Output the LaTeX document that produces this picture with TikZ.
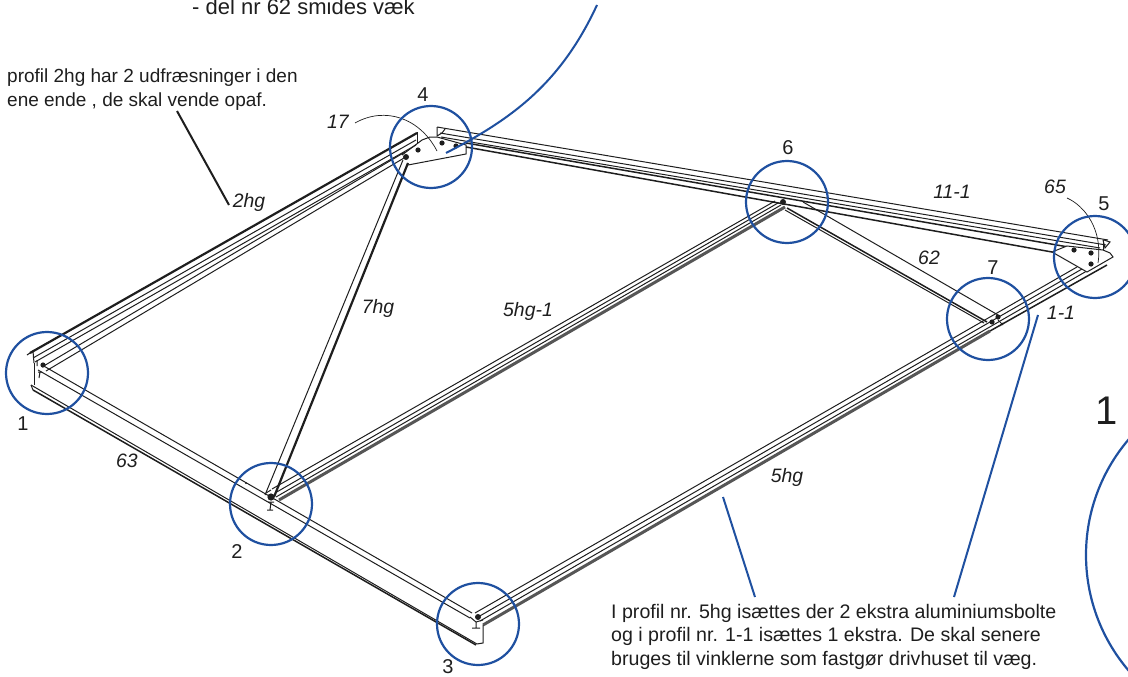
\documentclass[tikz,border=0pt]{standalone}
\usepackage{fontspec}
\setmainfont{Liberation Sans}
\definecolor{mark}{HTML}{1F50A0}
\definecolor{ink}{HTML}{1E1E1E}
\tikzset{
  x=1pt,y=-1pt,
  part/.style={draw=ink,line width=1pt},
  heavy/.style={draw=ink,line width=1.5pt},
  boldline/.style={draw=ink,line width=2.2pt},
  hatch/.style={draw=ink!75,line width=3pt},
  fine/.style={draw=ink,line width=0.7pt},
  ring/.style={draw=mark,line width=2.2pt},
  pointer/.style={draw=mark,line width=2pt},
  hole/.style={fill=ink,draw=none},
  partlabel/.style={font=\fontsize{19.4}{19.4}\selectfont\itshape,text=ink,inner sep=0pt},
  numlabel/.style={font=\fontsize{20}{20}\selectfont,text=ink,inner sep=0pt},
  note/.style={font=\fontsize{19}{24}\selectfont,text=ink,inner sep=0pt,align=left},
  notewide/.style={font=\fontsize{19.6}{23.5}\selectfont,text=ink,inner sep=0pt,align=left},
}
\begin{document}
\begin{tikzpicture}
\useasboundingbox (0,0) rectangle (1128,677);
\begin{scope}
\clip (0,0) rectangle (1128,677);
% beam 2hg
\path[boldline] (30,353) -- (417,133);
\path[part] (33,358) -- (416,140);
\path[part] (35,362) -- (416,145);
\path[part] (42,367) -- (405,152);
\path[part] (46,371) -- (404,158);
\path[part] (27,355) -- (33,351) -- (34,363);
\path[part] (417,132) -- (417,143);
% beam 11-1
\path[part] (437,127) -- (1108,240);
\path[part] (440,133) -- (1106,245);
\path[part] (441,137) -- (1100,248);
\path[heavy] (466,143) -- (1080,249);
\path[heavy] (466,147) -- (1052,252);
\path[part] (437,127) -- (437,136) -- (442,133) -- (445,129);
\path[part] (1104,240) -- (1110,242) -- (1105,248) -- (1103,240);
% front beam 63
\path[part] (42,365) -- (472,613);
\path[part] (38,370) -- (470,618);
\path[part] (31,385) -- (477,644);
\path[heavy] (33,390) -- (476,645);
\path[part] (31,385) -- (33,390);
\path[part] (34,363) -- (34,385);
\path[part] (37,360) -- (37,366) (38,372) -- (42,372) (40,372) -- (39,378);
% 5hg-1
\path[part] (272,489) -- (775,201);
\path[part] (275,493) -- (778,203);
\path[part] (276,497) -- (781,205);
\path[hatch] (279,500) -- (785,207);
% 5hg and 1-1
\path[part] (475,613) -- (1077,267);
\path[part] (478,617) -- (1082,269);
\path[part] (480,621) -- (1092,268);
\path[hatch] (483,625) -- (990,331);
\path[heavy] (990,331) -- (1107,265);
\path[part] (483,625) -- (483,643) -- (477,644);
\path[part] (470,617) -- (476,622) -- (476,628) (472,628) -- (480,628) (476,622) -- (483,620);
% strut 7hg
\path[part] (403,160) -- (265,495);
\path[boldline] (408,163) -- (274,497);
% brace 62
\path[part] (803,202) -- (998,315);
\path[heavy] (787,208) -- (987,322);
\path[part] (785,210) -- (984,323);
\path[part] (998,320) -- (1003,325) (1000,326) -- (1003,323);
% bracket 4
\path[part] (402,155) -- (422,140) -- (430,137) -- (437,137) -- (466,145) -- (466,154) -- (408,165);
% bracket 5
\path[fill=white,part] (1052,252) -- (1067,246) -- (1103,250) -- (1110,253) -- (1113,257) -- (1087,272) -- cycle;
\path[part] (1103,240) -- (1103,250);
% small fittings
\path[part] (268,502) -- (274,502) (271,502) -- (270,510) (267,510) -- (273,510);
\path[part] (266,493) -- (271,490);
\fill[ink] (246,483) circle[radius=1];
% holes
\path[hole] (43,365) circle[radius=2.6];
\path[hole] (271,497) circle[radius=3.6];
\path[hole] (478,617) circle[radius=3];
\path[hole] (418,150) circle[radius=2.6];
\path[hole] (442,143) circle[radius=2.6];
\path[hole] (456,146) circle[radius=2.6];
\path[hole] (406,157) circle[radius=3];
\path[hole] (1074,250) circle[radius=2.6];
\path[hole] (1091,253) circle[radius=2.6];
\path[hole] (1091,264) circle[radius=2.6];
\path[hole] (992,322) circle[radius=2.6];
\path[hole] (998,317) circle[radius=2.6];
\path[hole] (783,202) circle[radius=3];
% leaders
\coordinate (lead17a) at (355,123);
\coordinate (lead17b) at (437,151);
\coordinate (lead65a) at (1067,198);
\coordinate (lead65b) at (1098,263);
\path[fine] (lead17a) .. controls (385,106) and (420,118) .. (lead17b);
\path[fine] (lead65a) .. controls (1085,206) and (1103,230) .. (lead65b);
% rings
\path[ring] (47,373) circle[radius=41];
\path[ring] (271,504) circle[radius=41];
\path[ring] (478,624) circle[radius=41];
\path[ring] (431,147) circle[radius=41];
\path[ring] (787,202) circle[radius=41];
\path[ring] (988,319) circle[radius=41];
\path[ring] (1095,257) circle[radius=41];
\path[ring] (1264,555) circle[radius=178];
% pointers
\coordinate (curvetop) at (597,5);
\coordinate (curveend) at (446,153);
\coordinate (p5a) at (723,497);
\coordinate (p5b) at (755,597);
\coordinate (p1a) at (1038,315);
\coordinate (p1b) at (954,597);
\coordinate (black2a) at (177,111);
\coordinate (black2b) at (229,205);
\path[pointer] (curvetop) .. controls (560,85) and (510,120) .. (curveend);
\path[pointer] (p5a) -- (p5b);
\path[pointer] (p1a) -- (p1b);
\path[draw=ink,line width=2pt] (black2a) -- (black2b);
\end{scope}
% notes
\node[font=\fontsize{22}{24}\selectfont,text=ink,inner sep=0pt,anchor=base west] (topnote) at (192,15) {- del nr 62 smides væk};
\node[note,anchor=north west] (note2hg) at (7,69) {profil 2hg har 2 udfræsninger i den\\ene ende , de skal vende opaf.};
\node[notewide,anchor=north west] (note5hg) at (611,604) {I profil nr. 5hg isættes der 2 ekstra aluminiumsbolte\\og i profil nr. 1-1 isættes 1 ekstra. De skal senere\\bruges til vinklerne som fastgør drivhuset til væg.};
% part labels
\node[partlabel] (l2hg) at (249,202) {2hg};
\node[partlabel] (l7hg) at (378,308) {7hg};
\node[partlabel] (l5hg1) at (528,311) {5hg-1};
\node[partlabel] (l111) at (952,192) {11-1};
\node[partlabel] (l65) at (1055,187) {65};
\node[partlabel] (l62) at (929,258) {62};
\node[partlabel] (l11) at (1061,313) {1-1};
\node[partlabel] (l5hg) at (787,477) {5hg};
\node[partlabel] (l63) at (127,461) {63};
\node[partlabel] (l17) at (338,122) {17};
% numbers
\node[numlabel] (n4) at (423,95) {4};
\node[numlabel] (n6) at (788,148) {6};
\node[numlabel] (n5) at (1104,204) {5};
\node[numlabel] (n7) at (993,268) {7};
\node[numlabel] (n1) at (23,424) {1};
\node[numlabel] (n2) at (237,552) {2};
\node[numlabel] (n3) at (448,667) {3};
\node[font=\fontsize{40}{40}\selectfont,text=ink,inner sep=0pt] (bigone) at (1107,411) {1};
\end{tikzpicture}
\end{document}
